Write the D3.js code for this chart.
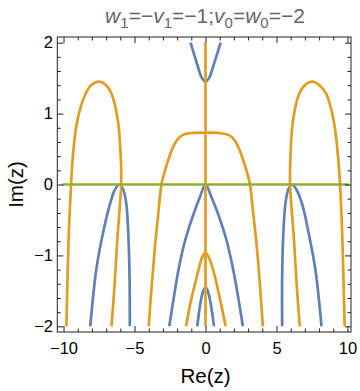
<!DOCTYPE html>
<html>
<head>
<meta charset="utf-8">
<script src="https://cdn.jsdelivr.net/npm/d3@7"></script>
<style>
  body { margin: 0; background: #fff; }
  svg { display: block; }
</style>
</head>
<body>
<div id="chart"></div>
<script>
// contour branches, as [Re(z), Im(z)]
var blueTop = [[-1.05, 2], [-0.61, 1.71], [-0.25, 1.5], [0, 1.45], [0.25, 1.5], [0.61, 1.71], [1.07, 2]];
var blueCenter = [[-2.55, -2], [-2.2, -1.55], [-1.85, -1.15], [-1.45, -0.8], [-0.9, -0.45], [-0.38, -0.17], [0, 0],
                  [0.4, -0.17], [0.95, -0.45], [1.5, -0.8], [1.9, -1.15], [2.27, -1.55], [2.63, -2]];
var blueInner = [[-0.58, -2], [-0.32, -1.63], [-0.14, -1.49], [0, -1.45], [0.14, -1.49], [0.32, -1.63], [0.6, -2]];
var blueLeft = [[-8.12, -2], [-7.7, -1.21], [-7.28, -0.74], [-6.72, -0.27], [-6.35, -0.06], [-6.05, 0],
                [-5.8, -0.07], [-5.58, -0.27], [-5.43, -0.74], [-5.35, -1.3], [-5.33, -2]];
var blueRight = [[5.4, -2], [5.4, -1.3], [5.47, -0.74], [5.63, -0.27], [5.85, -0.06], [6.1, 0],
                 [6.4, -0.07], [6.8, -0.27], [7.32, -0.74], [7.75, -1.21], [8.17, -2]];

var orangeAxis = [[0, -2], [0, 2]];
var orangeFlat = [[-4.0, -2], [-3.78, -1.4], [-3.55, -0.85], [-3.32, -0.4], [-3.1, 0], [-2.85, 0.2], [-2.6, 0.36],
                  [-2.3, 0.52], [-2.0, 0.63], [-1.6, 0.7], [-1.0, 0.725], [0, 0.73], [1.0, 0.725], [1.62, 0.7],
                  [2.03, 0.63], [2.33, 0.52], [2.63, 0.36], [2.88, 0.2], [3.13, 0], [3.36, -0.4], [3.6, -0.85],
                  [3.83, -1.4], [4.04, -2]];
var orangeInner = [[-1.37, -2], [-1.07, -1.68], [-0.5, -1.21], [-0.22, -1.02], [0, -0.96], [0.22, -1.02],
                   [0.55, -1.21], [1.09, -1.68], [1.42, -2]];
var orangeLeft = [[-9.8, -2], [-9.64, -0.75], [-9.47, 0], [-9.33, 0.43], [-9.03, 0.9], [-8.45, 1.28], [-8.0, 1.41],
                  [-7.5, 1.45], [-7.0, 1.4], [-6.62, 1.28], [-6.17, 0.9], [-5.98, 0.43], [-5.94, 0], [-6.2, -0.74],
                  [-6.4, -1.4], [-6.62, -2]];
var orangeRight = [[6.64, -2], [6.42, -1.4], [6.22, -0.74], [5.96, 0], [5.99, 0.43], [6.16, 0.9], [6.6, 1.28],
                   [7.05, 1.41], [7.52, 1.45], [8.02, 1.4], [8.5, 1.28], [9.03, 0.9], [9.32, 0.43], [9.48, 0],
                   [9.64, -0.75], [9.8, -2]];

var greenAxis = [[-10.1, 0], [10.1, 0]];

var xMajor = [-10, -5, 0, 5, 10];
var xMinor = d3.range(-10, 11, 1);
var yMajor = [-2, -1, 0, 1, 2];
var yMinor = d3.range(-20, 21, 2).map(function(d) { return d / 10; });

var titleParts = [["w", "i"], ["1", "s"], ["=\u2212", "n"], ["v", "i"], ["1", "s"], ["=\u22121;", "n"],
                  ["v", "i"], ["0", "s"], ["=", "n"], ["w", "i"], ["0", "s"], ["=\u22122", "n"]];

var margin = {top: 37, right: 9, bottom: 59, left: 57.3},
    width = 360 - margin.left - margin.right,
    height = 391 - margin.top - margin.bottom;

var svg = d3.select("#chart")
  .append("svg")
    .attr("width", 360)
    .attr("height", 391)
    .style("font-family", "'Liberation Sans', Arial, sans-serif");

var g = svg.append("g")
    .attr("transform", "translate(" + margin.left + "," + margin.top + ")");

var x = d3.scaleLinear().domain([-10.44, 10.25]).range([0, width]);
var y = d3.scaleLinear().domain([-2.08, 2.08]).range([height, 0]);

var line = d3.line()
    .x(function(d) { return x(d[0]); })
    .y(function(d) { return y(d[1]); })
    .curve(d3.curveCatmullRom.alpha(0.5));

var blue = "#5e81b5", orange = "#e19c24", green = "#8fb032";
var curves = [
  [blueTop, blue], [blueCenter, blue], [blueInner, blue], [blueLeft, blue], [blueRight, blue],
  [orangeAxis, orange], [orangeFlat, orange], [orangeInner, orange], [orangeLeft, orange], [orangeRight, orange],
  [greenAxis, green]
];

g.selectAll(".curve")
  .data(curves)
  .enter()
  .append("path")
    .attr("class", "curve")
    .attr("d", function(d) { return line(d[0]); })
    .attr("fill", "none")
    .attr("stroke", function(d) { return d[1]; })
    .attr("stroke-width", 2.7)
    .attr("stroke-linejoin", "round");

// frame ticks point inwards, labels only on bottom and left
function frameAxis(axis, values, size, labels) {
  return axis.tickValues(values).tickSizeInner(-size).tickSizeOuter(0)
    .tickFormat(labels ? function(d) { return d < 0 ? "\u2212" + (-d) : d; } : "");
}

var minorX = xMinor.filter(function(d) { return xMajor.indexOf(d) < 0; });
var minorY = yMinor.filter(function(d) { return yMajor.indexOf(d) < 0; });

var axes = [
  g.append("g").attr("transform", "translate(0," + height + ")").call(frameAxis(d3.axisBottom(x), xMajor, 6, true).tickPadding(10.5)),
  g.append("g").attr("transform", "translate(0," + height + ")").call(frameAxis(d3.axisBottom(x), minorX, 3.5, false)),
  g.append("g").call(frameAxis(d3.axisTop(x), xMajor, 6, false)),
  g.append("g").call(frameAxis(d3.axisTop(x), minorX, 3.5, false)),
  g.append("g").call(frameAxis(d3.axisLeft(y), yMajor, 6, true).tickPadding(4.3)),
  g.append("g").call(frameAxis(d3.axisLeft(y), minorY, 3.5, false)),
  g.append("g").attr("transform", "translate(" + width + ",0)").call(frameAxis(d3.axisRight(y), yMajor, 6, false)),
  g.append("g").attr("transform", "translate(" + width + ",0)").call(frameAxis(d3.axisRight(y), minorY, 3.5, false))
];
axes.forEach(function(a) {
  a.select(".domain").remove();
  a.selectAll("line").attr("stroke", "#222");
  a.selectAll("text").attr("fill", "#000").style("font-size", "16.5px").style("font-family", null);
});

g.append("rect")
    .attr("width", width)
    .attr("height", height)
    .attr("fill", "none")
    .attr("stroke", "#222")
    .attr("stroke-width", 1);

svg.append("text")
    .attr("x", margin.left + x(0))
    .attr("y", 383)
    .attr("text-anchor", "middle")
    .style("font-size", "20.5px")
    .attr("fill", "#000")
    .text("Re(z)");

svg.append("text")
    .attr("transform", "translate(23," + (margin.top + y(0)) + ")rotate(-90)")
    .attr("text-anchor", "middle")
    .style("font-size", "20.5px")
    .attr("fill", "#000")
    .text("Im(z)");

var title = svg.append("text")
    .attr("x", 205)
    .attr("y", 22.5)
    .attr("text-anchor", "middle")
    .attr("fill", "#666")
    .style("font-size", "21px");

var shift = 0;
titleParts.forEach(function(p) {
  var t = title.append("tspan").text(p[0]);
  var target = p[1] === "s" ? 5 : 0;
  if (target !== shift) { t.attr("dy", target - shift); shift = target; }
  if (p[1] === "i") t.style("font-style", "italic");
  if (p[1] === "s") t.style("font-size", "15px");
});
</script>
</body>
</html>
